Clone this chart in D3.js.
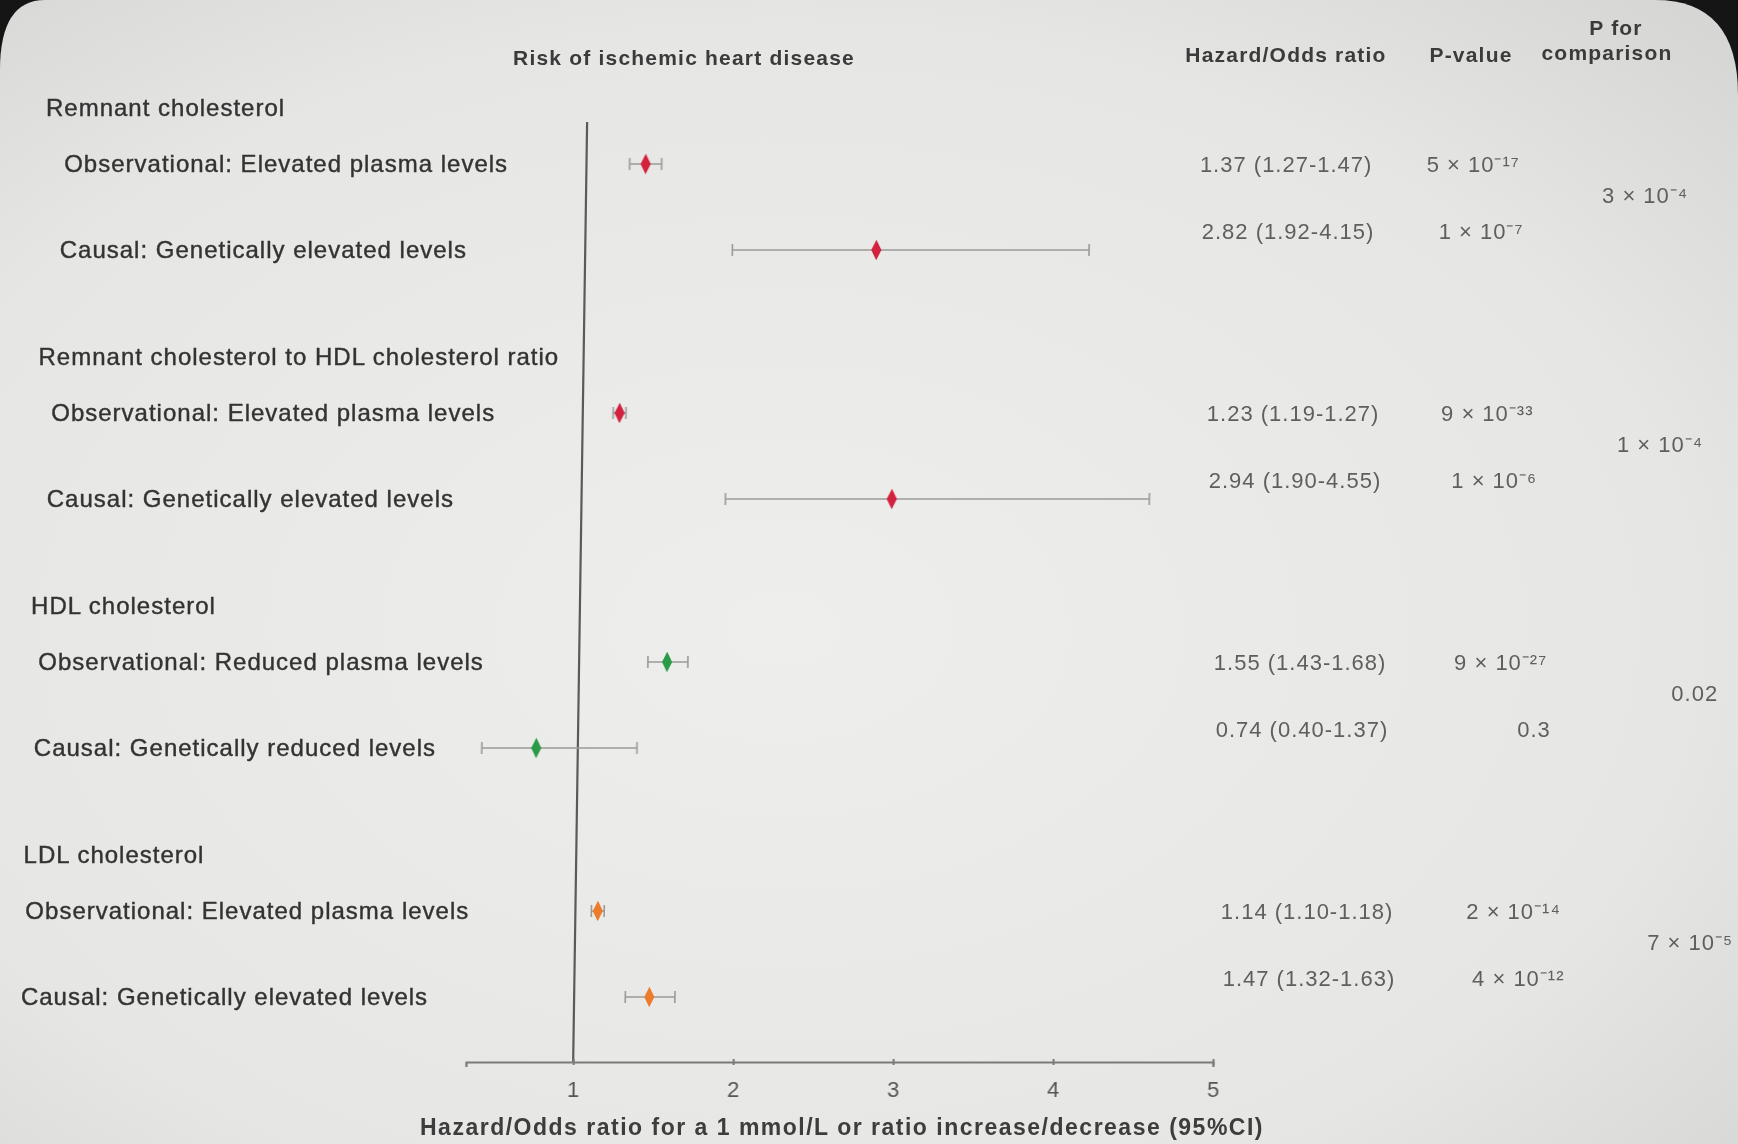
<!doctype html>
<meta charset="utf-8">
<head>
<script src="https://d3js.org/d3.v7.min.js"></script>
<style>
  body { margin: 0; background: #151515; }
  svg text { font-family: "Liberation Sans", Arial, sans-serif; }
</style>
</head>
<body>
<svg width="1738" height="1144"></svg>
<script>
    // categories and values
    let groups = ["Remnant cholesterol", "Remnant cholesterol to HDL cholesterol ratio",
                  "HDL cholesterol", "LDL cholesterol"];
    let rowLabels = [
        "Observational: Elevated plasma levels", "Causal: Genetically elevated levels",
        "Observational: Elevated plasma levels", "Causal: Genetically elevated levels",
        "Observational: Reduced plasma levels", "Causal: Genetically reduced levels",
        "Observational: Elevated plasma levels", "Causal: Genetically elevated levels"
    ];
    let estimates = [1.37, 2.82, 1.23, 2.94, 1.55, 0.74, 1.14, 1.47];
    let lower     = [1.27, 1.92, 1.19, 1.90, 1.43, 0.40, 1.10, 1.32];
    let upper     = [1.47, 4.15, 1.27, 4.55, 1.68, 1.37, 1.18, 1.63];
    let pValues = ["5 × 10⁻¹⁷", "1 × 10⁻⁷", "9 × 10⁻³³", "1 × 10⁻⁶",
                   "9 × 10⁻²⁷", "0.3", "2 × 10⁻¹⁴", "4 × 10⁻¹²"];
    let pComparison = ["3 × 10⁻⁴", "1 × 10⁻⁴", "0.02", "7 × 10⁻⁵"];
    let groupColors = ["#d3203c", "#d3203c", "#2c9a47", "#ec7b2b"];
    let tickValues = [1, 2, 3, 4, 5];

    let svg = d3.select("svg");
    let width = +svg.attr("width");
    let height = +svg.attr("height");

    // photographed screen: light panel with rounded dark corners
    let defs = svg.append("defs");
    let grad = defs.append("radialGradient").attr("id", "screen")
        .attr("cx", "45%").attr("cy", "55%").attr("r", "75%");
    grad.append("stop").attr("offset", "0%").attr("stop-color", "#eeefec");
    grad.append("stop").attr("offset", "70%").attr("stop-color", "#e6e7e4");
    grad.append("stop").attr("offset", "100%").attr("stop-color", "#d6d7d4");
    defs.append("filter").attr("id", "soft")
        .append("feGaussianBlur").attr("stdDeviation", 0.7);

    svg.append("path")
        .attr("fill", "url(#screen)")
        .attr("d", `M0,70 Q0,0 45,0 L1655,0 Q1738,0 1738,95 L1738,${height} L0,${height} Z`);

    let g = svg.append("g").attr("filter", "url(#soft)");

    let x = d3.scaleLinear().domain([0.33, 5]).range([466, 1213]);
    let y = d3.scaleLinear().domain([0, 12]).range([108, 855]);

    let rows = estimates.map((e, i) => ({
        label: rowLabels[i], est: e, lo: lower[i], hi: upper[i], p: pValues[i],
        group: Math.floor(i / 2), causal: i % 2 === 1
    }));
    let rowSlot = (d) => d.group * 4 + (d.causal ? 2.28 : 0.9);
    let valueSlot = (d) => d.group * 4 + (d.causal ? 1.97 : 0.9);
    let axisY = 1062;

    // perspective of the photo: plot leans slightly
    let plot = g.append("g")
        .attr("transform", `translate(0,${axisY}) skewX(-0.85) translate(0,${-axisY})`);

    plot.append("line")
        .attr("x1", x(1)).attr("x2", x(1))
        .attr("y1", 122).attr("y2", axisY)
        .attr("stroke", "#5a5a5a").attr("stroke-width", 2.2);

    let axis = plot.append("g")
        .attr("transform", `translate(0,${axisY})`)
        .call(d3.axisBottom(x).tickValues(tickValues).tickSize(5).tickPadding(14)
              .tickFormat(d3.format("d")));
    axis.select(".domain").attr("stroke", "#7a7a7a").attr("stroke-width", 2.2);
    axis.selectAll(".tick line").attr("stroke", "#7a7a7a").attr("stroke-width", 2)
        .attr("y1", -3).attr("y2", 3);
    axis.selectAll(".tick text")
        .attr("font-size", 22).attr("fill", "#555").attr("font-family", "Liberation Sans, Arial, sans-serif");

    let ci = plot.selectAll(".ci").data(rows).enter().append("g")
        .attr("class", "ci")
        .attr("transform", (d) => `translate(0,${y(rowSlot(d))})`);
    ci.append("line")
        .attr("x1", (d) => x(d.lo)).attr("x2", (d) => x(d.hi))
        .attr("stroke", "#9a9a9a").attr("stroke-width", 1.6);
    ci.append("line")
        .attr("x1", (d) => x(d.lo)).attr("x2", (d) => x(d.lo))
        .attr("y1", -6).attr("y2", 6)
        .attr("stroke", "#9a9a9a").attr("stroke-width", 1.6);
    ci.append("line")
        .attr("x1", (d) => x(d.hi)).attr("x2", (d) => x(d.hi))
        .attr("y1", -6).attr("y2", 6)
        .attr("stroke", "#9a9a9a").attr("stroke-width", 1.6);
    ci.append("path")
        .attr("transform", (d) => `translate(${x(d.est)},0) scale(0.9,1.05)`)
        .attr("d", d3.symbol().type(d3.symbolDiamond).size(110))
        .attr("fill", (d) => groupColors[d.group]);

    // x axis title
    g.append("text")
        .attr("x", 842).attr("y", 1135)
        .attr("text-anchor", "middle")
        .attr("font-size", 23).attr("font-weight", "bold")
        .attr("letter-spacing", 1.5)
        .attr("fill", "#3c3c3c")
        .text("Hazard/Odds ratio for a 1 mmol/L or ratio increase/decrease (95%CI)");

    // column headers
    let header = (tx, ty, s) => g.append("text")
        .attr("x", tx).attr("y", ty).attr("text-anchor", "middle")
        .attr("font-size", 21).attr("font-weight", "bold")
        .attr("letter-spacing", 1.2).attr("fill", "#3a3a3a").text(s);
    header(684, 65, "Risk of ischemic heart disease");
    header(1286, 62, "Hazard/Odds ratio");
    header(1471, 62, "P-value");
    header(1616, 35, "P for");
    header(1607, 60, "comparison");

    // left labels (the photo drifts left towards the bottom)
    g.selectAll(".grp").data(groups).enter().append("text")
        .attr("class", "grp")
        .attr("x", (d, i) => 46 - 0.03 * (y(i * 4) - 108))
        .attr("y", (d, i) => y(i * 4) + 8)
        .attr("font-size", 24).attr("letter-spacing", 1)
        .attr("fill", "#333").attr("stroke", "#333").attr("stroke-width", 0.4)
        .text((d) => d);

    g.selectAll(".lab").data(rows).enter().append("text")
        .attr("class", "lab")
        .attr("x", (d) => 64 - 0.052 * (y(rowSlot(d)) - 168))
        .attr("y", (d) => y(rowSlot(d)) + 8)
        .attr("font-size", 24).attr("letter-spacing", 1)
        .attr("fill", "#333").attr("stroke", "#333").attr("stroke-width", 0.4)
        .text((d) => d.label);

    // right columns
    let fmt = d3.format(".2f");
    g.selectAll(".hr").data(rows).enter().append("text")
        .attr("class", "hr")
        .attr("x", (d) => 1200 + 0.028 * (y(valueSlot(d)) - 168))
        .attr("y", (d) => y(valueSlot(d)) + 8)
        .attr("font-size", 22).attr("letter-spacing", 1)
        .attr("fill", "#5e5e5e")
        .text((d) => `${fmt(d.est)} (${fmt(d.lo)}-${fmt(d.hi)})`);

    g.selectAll(".pv").data(rows).enter().append("text")
        .attr("class", "pv")
        .attr("x", (d) => 1520 + 0.055 * (y(valueSlot(d)) - 168))
        .attr("y", (d) => y(valueSlot(d)) + 8)
        .attr("text-anchor", "end")
        .attr("font-size", 22).attr("letter-spacing", 1)
        .attr("fill", "#5e5e5e")
        .text((d) => d.p);

    g.selectAll(".pc").data(pComparison).enter().append("text")
        .attr("class", "pc")
        .attr("x", (d, i) => 1688 + 0.06 * (y(i * 4 + 1.4) - 190))
        .attr("y", (d, i) => y(i * 4 + 1.4) + 8)
        .attr("text-anchor", "end")
        .attr("font-size", 22).attr("letter-spacing", 1)
        .attr("fill", "#5e5e5e")
        .text((d) => d);
</script>
</body>
